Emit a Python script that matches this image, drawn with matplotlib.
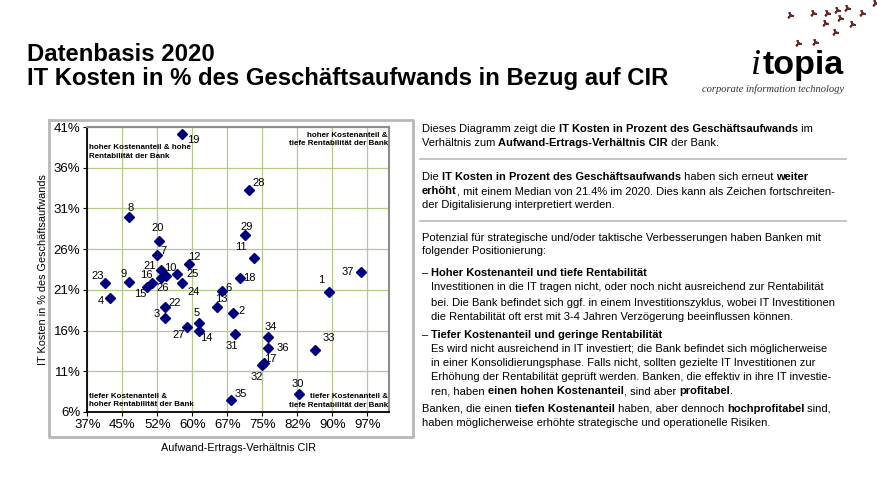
import matplotlib
matplotlib.use("Agg")
import matplotlib.pyplot as plt
from matplotlib.ticker import FixedLocator, FixedFormatter

plt.rcParams['font.family'] = ['Liberation Sans', 'DejaVu Sans']

# Data (values in %)
bank_ids = list(range(1, 38))
cir = [88.9, 68.2, 53.7, 41.9, 60.9, 65.8, 51.9, 45.9, 45.9, 53.9,
       72.8, 58.9, 64.7, 60.9, 49.9, 50.8, 74.9, 69.8, 57.3, 52.4,
       52.7, 53.6, 40.9, 57.4, 56.3, 52.9, 58.3, 71.7, 70.7, 82.4,
       68.7, 74.5, 85.8, 75.8, 67.8, 75.8, 95.7]
it_share = [20.7, 18.1, 17.5, 20.0, 16.9, 20.9, 25.3, 29.9, 22.0, 22.7,
            24.9, 24.2, 18.9, 16.0, 21.4, 21.8, 12.0, 22.5, 40.2, 27.0,
            23.4, 18.9, 21.9, 21.8, 23.0, 22.5, 16.5, 33.3, 27.7, 8.2,
            15.6, 11.8, 13.6, 15.2, 7.5, 13.8, 23.2]

x_ticks = [37 + 7.5 * k for k in range(9)]
x_tick_labels = ["37%", "45%", "52%", "60%", "67%", "75%", "82%", "90%", "97%"]
y_ticks = [6, 11, 16, 21, 26, 31, 36, 41]
y_tick_labels = ["6%", "11%", "16%", "21%", "26%", "31%", "36%", "41%"]

# label offsets (pixels) for the bank numbers
label_off = {1: (-8, 12), 2: (9, 2), 3: (-9, 4), 4: (-9, -3), 5: (-2, 10),
             6: (7, 3), 7: (7, 4), 8: (2, 9), 9: (-5, 8), 10: (4, 8),
             11: (-13, 11), 12: (5, 7), 13: (5, 8), 14: (7, -7), 15: (-7, -7),
             16: (-5, 8), 17: (6, 4), 18: (9, 0), 19: (11, -6), 20: (-2, 13),
             21: (-11, 4), 22: (10, 4), 23: (-8, 7), 24: (11, -9), 25: (15, 0),
             26: (1, -10), 27: (-8, -8), 28: (9, 7), 29: (2, 8), 30: (-1, 10),
             31: (-3, -12), 32: (-5, -12), 33: (14, 12), 34: (2, 10), 35: (10, 6),
             36: (14, 0), 37: (-13, 0)}

title_lines = ["Datenbasis 2020",
               "IT Kosten in % des Geschäftsaufwands in Bezug auf CIR"]

# right-hand text: list of (y, x, segments), segments = (text, bold)
text_lines = [
    (128, 422, [("Dieses Diagramm zeigt die ", False), ("IT Kosten in Prozent des Geschäftsaufwands", True), (" im", False)]),
    (143, 422, [("Verhältnis zum ", False), ("Aufwand-Ertrags-Verhältnis CIR", True), (" der Bank.", False)]),
    (177, 422, [("Die ", False), ("IT Kosten in Prozent des Geschäftsaufwands", True), (" haben sich erneut ", False), ("weiter", True)]),
    (191, 422, [("erhöht", True), (", mit einem Median von 21.4% im 2020. Dies kann als Zeichen fortschreiten-", False)]),
    (205, 422, [("der Digitalisierung interpretiert werden.", False)]),
    (237, 422, [("Potenzial für strategische und/oder taktische Verbesserungen haben Banken mit", False)]),
    (251, 422, [("folgender Positionierung:", False)]),
    (273, 422, [("– ", False), ("Hoher Kostenanteil und tiefe Rentabilität", True)]),
    (287, 431, [("Investitionen in die IT tragen nicht, oder noch nicht ausreichend zur Rentabilität", False)]),
    (302, 431, [("bei. Die Bank befindet sich ggf. in einem Investitionszyklus, wobei IT Investitionen", False)]),
    (316, 431, [("die Rentabilität oft erst mit 3-4 Jahren Verzögerung beeinflussen können.", False)]),
    (334, 422, [("– ", False), ("Tiefer Kostenanteil und geringe Rentabilität", True)]),
    (348, 431, [("Es wird nicht ausreichend in IT investiert; die Bank befindet sich möglicherweise", False)]),
    (363, 431, [("in einer Konsolidierungsphase. Falls nicht, sollten gezielte IT Investitionen zur", False)]),
    (377, 431, [("Erhöhung der Rentabilität geprüft werden. Banken, die effektiv in ihre IT investie-", False)]),
    (391, 431, [("ren, haben ", False), ("einen hohen Kostenanteil", True), (", sind aber ", False), ("profitabel", True), (".", False)]),
    (408, 422, [("Banken, die einen ", False), ("tiefen Kostenanteil", True), (" haben, aber dennoch ", False), ("hochprofitabel", True), (" sind,", False)]),
    (422, 422, [("haben möglicherweise erhöhte strategische und operationelle Risiken.", False)]),
]

birds_x = [790, 813, 827, 837, 847, 862, 875, 825, 840, 852, 835, 798, 815]
birds_y = [15, 13, 13, 10, 8, 13, 3, 23, 18, 24, 32, 43, 42]

W, H = 877, 478
fig = plt.figure(figsize=(W / 100, H / 100), dpi=100)
ov = fig.add_axes([0, 0, 1, 1])
ov.set_xlim(0, W)
ov.set_ylim(H, 0)
ov.axis("off")
ov.set_zorder(-1)

# frame around chart
ov.plot([49, 413, 413, 49, 49], [120, 120, 437, 437, 120], color="#b8b8b8", lw=2)
# separators
for sy in [159, 221]:
    ov.plot([420, 846], [sy, sy], color="#c0c0c0", lw=1.3)

# title
ov.text(27, 61, title_lines[0], fontsize=17.2, fontweight="bold", va="baseline")
ov.text(27, 85, title_lines[1], fontsize=17.2, fontweight="bold", va="baseline")

# logo
ov.plot(birds_x, birds_y, ls="none", marker=(3, 2, 20), ms=5, mew=1.4, color="#6b2a2a")
ov.text(751, 74, "i", fontsize=26, family="Liberation Serif", style="italic", va="baseline")
ov.text(763, 74, "topia", fontsize=24.5, fontweight="bold", va="baseline")
ov.text(702, 92, "corporate information technology", fontsize=7.6,
        family="Liberation Serif", style="italic", va="baseline", color="#333333")

# rich text: segments placed one after another
renderer = fig.canvas.get_renderer()
fs = 8.0


def seg_width(s, bold):
    t = ov.text(0, 0, s, fontsize=fs, fontweight="bold" if bold else "normal")
    w = t.get_window_extent(renderer).width
    t.remove()
    return w


for y, x, segs in text_lines:
    cx = x
    for s, bold in segs:
        ov.text(cx, y + 3.5, s, fontsize=fs, fontweight="bold" if bold else "normal",
                va="baseline", ha="left")
        cx += seg_width(s, bold)

# chart
L, R, T, B = 87.3, 389.3, 127, 412
ax = fig.add_axes([L / W, 1 - B / H, (R - L) / W, (B - T) / H])
ax.set_facecolor("none")
ax.set_xlim(37, 37 + (R - L) / 35 * 7.5)
ax.set_ylim(6, 41)
ax.xaxis.set_major_locator(FixedLocator(x_ticks))
ax.xaxis.set_major_formatter(FixedFormatter(x_tick_labels))
ax.yaxis.set_major_locator(FixedLocator(y_ticks))
ax.yaxis.set_major_formatter(FixedFormatter(y_tick_labels))
ax.grid(True, color="#b5c98c", lw=0.9)
ax.set_axisbelow(True)
ax.tick_params(labelsize=9.5, length=3, width=0.8, pad=2)
for side in ["left", "bottom"]:
    ax.spines[side].set_color("black")
    ax.spines[side].set_linewidth(1.3)
for side in ["top", "right"]:
    ax.spines[side].set_color("#8c8c8c")
    ax.spines[side].set_linewidth(1.5)

ax.plot(cir, it_share, ls="none", marker="D", ms=5.2, color="#00007f", zorder=3)
for b, xv, yv in zip(bank_ids, cir, it_share):
    dx, dy = label_off[b]
    ax.annotate(str(b), (xv, yv), xytext=(dx, dy), textcoords="offset pixels",
                ha="center", va="center", fontsize=8)

ax.set_xlabel("Aufwand-Ertrags-Verhältnis CIR", fontsize=7.8, labelpad=9)
ax.set_ylabel("IT Kosten in % des Geschäftsaufwands", fontsize=7.8, labelpad=4)

qfs = 5.8
ax.text(89, 152, "hoher Kostenanteil & hohe\nRentabilität der Bank", transform=ov.transData,
        fontsize=qfs, fontweight="bold", ha="left", va="center", linespacing=1.25)
ax.text(388, 139.5, "hoher Kostenanteil &\ntiefe Rentabilität der Bank", transform=ov.transData,
        fontsize=qfs, fontweight="bold", ha="right", va="center", linespacing=1.25, multialignment="right")
ax.text(89, 400.5, "tiefer Kostenanteil &\nhoher Rentabilität der Bank", transform=ov.transData,
        fontsize=qfs, fontweight="bold", ha="left", va="center", linespacing=1.25)
ax.text(388, 401, "tiefer Kostenanteil &\ntiefe Rentabilität der Bank", transform=ov.transData,
        fontsize=qfs, fontweight="bold", ha="right", va="center", linespacing=1.25, multialignment="right")

fig.savefig("out.png", dpi=100)
